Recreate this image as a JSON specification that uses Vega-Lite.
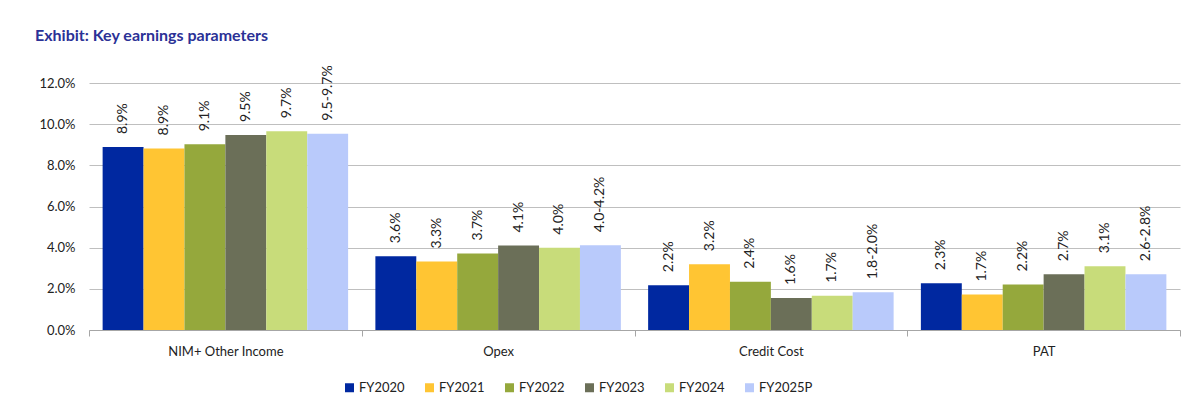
{
  "$schema": "https://vega.github.io/schema/vega-lite/v6.json",
  "width": 1091,
  "height": 247,
  "autosize": {"type": "none"},
  "padding": {"left": 89, "top": 83, "right": 23, "bottom": 77},
  "background": "white",
  "title": {"text": "Exhibit: Key earnings parameters", "anchor": "start", "frame": "group", "font": "Lato", "fontSize": 16, "fontWeight": "bold", "color": "#2b3196", "dx": -54, "offset": 21},
  "data": {"values": [
    {"category": "NIM+ Other Income", "series": "FY2020", "value": 0.0889, "label": "8.9%"},
    {"category": "NIM+ Other Income", "series": "FY2021", "value": 0.0882, "label": "8.9%"},
    {"category": "NIM+ Other Income", "series": "FY2022", "value": 0.0902, "label": "9.1%"},
    {"category": "NIM+ Other Income", "series": "FY2023", "value": 0.0947, "label": "9.5%"},
    {"category": "NIM+ Other Income", "series": "FY2024", "value": 0.0965, "label": "9.7%"},
    {"category": "NIM+ Other Income", "series": "FY2025P", "value": 0.0953, "label": "9.5-9.7%"},
    {"category": "Opex", "series": "FY2020", "value": 0.0358, "label": "3.6%"},
    {"category": "Opex", "series": "FY2021", "value": 0.0333, "label": "3.3%"},
    {"category": "Opex", "series": "FY2022", "value": 0.0372, "label": "3.7%"},
    {"category": "Opex", "series": "FY2023", "value": 0.041, "label": "4.1%"},
    {"category": "Opex", "series": "FY2024", "value": 0.04, "label": "4.0%"},
    {"category": "Opex", "series": "FY2025P", "value": 0.0412, "label": "4.0-4.2%"},
    {"category": "Credit Cost", "series": "FY2020", "value": 0.0218, "label": "2.2%"},
    {"category": "Credit Cost", "series": "FY2021", "value": 0.032, "label": "3.2%"},
    {"category": "Credit Cost", "series": "FY2022", "value": 0.0235, "label": "2.4%"},
    {"category": "Credit Cost", "series": "FY2023", "value": 0.0156, "label": "1.6%"},
    {"category": "Credit Cost", "series": "FY2024", "value": 0.0166, "label": "1.7%"},
    {"category": "Credit Cost", "series": "FY2025P", "value": 0.0183, "label": "1.8-2.0%"},
    {"category": "PAT", "series": "FY2020", "value": 0.0227, "label": "2.3%"},
    {"category": "PAT", "series": "FY2021", "value": 0.0172, "label": "1.7%"},
    {"category": "PAT", "series": "FY2022", "value": 0.0221, "label": "2.2%"},
    {"category": "PAT", "series": "FY2023", "value": 0.0271, "label": "2.7%"},
    {"category": "PAT", "series": "FY2024", "value": 0.031, "label": "3.1%"},
    {"category": "PAT", "series": "FY2025P", "value": 0.0271, "label": "2.6-2.8%"}
  ]},
  "encoding": {
    "x": {"field": "category", "type": "nominal", "sort": ["NIM+ Other Income", "Opex", "Credit Cost", "PAT"],
      "scale": {"paddingInner": 0, "paddingOuter": 0},
      "axis": {"title": null, "labelAngle": 0, "tickBand": "extent", "domainColor": "#a6a6a6", "tickColor": "#a6a6a6", "tickSize": 6, "labelPadding": 9, "labelFont": "Lato", "labelFontSize": 13, "labelColor": "#222222", "grid": false}},
    "xOffset": {"field": "series", "type": "nominal", "sort": ["FY2020", "FY2021", "FY2022", "FY2023", "FY2024", "FY2025P"],
      "scale": {"paddingInner": 0, "paddingOuter": 0.333}},
    "y": {"field": "value", "type": "quantitative", "scale": {"domain": [0, 0.12]},
      "axis": {"title": null, "format": ".1%", "values": [0, 0.02, 0.04, 0.06, 0.08, 0.1, 0.12], "domain": false, "ticks": false, "gridColor": "#bfbfbf", "labelPadding": 14, "labelFont": "Lato", "labelFontSize": 13, "labelColor": "#222222"}}
  },
  "layer": [
    {"mark": {"type": "bar"},
     "encoding": {"color": {"field": "series", "type": "nominal",
       "scale": {"domain": ["FY2020", "FY2021", "FY2022", "FY2023", "FY2024", "FY2025P"], "range": ["#0028a0", "#ffc533", "#95a83c", "#6b6f58", "#c8dc7a", "#b9cafb"]},
       "legend": {"title": null, "orient": "none", "legendX": 254, "legendY": 298, "direction": "horizontal", "symbolType": "square", "symbolSize": 81, "symbolStrokeWidth": 0, "labelFont": "Lato", "labelFontSize": 13, "labelColor": "#222222", "columnPadding": 18, "labelOffset": 3}}}},
    {"mark": {"type": "text", "angle": 270, "align": "left", "baseline": "middle", "dx": 13, "font": "Lato", "fontSize": 14, "color": "#222222"},
     "encoding": {"text": {"field": "label"}}}
  ],
  "config": {"view": {"stroke": null}}
}
